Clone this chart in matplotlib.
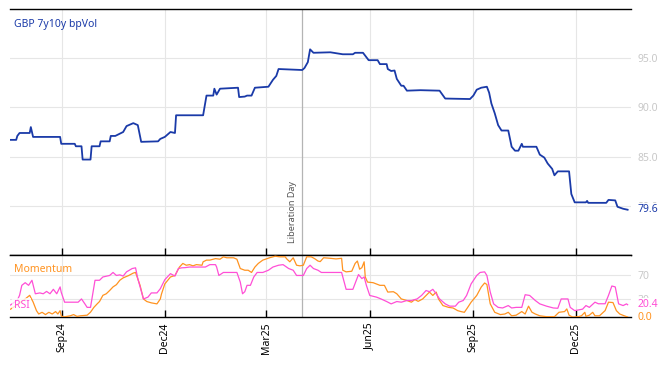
import matplotlib
matplotlib.use('Agg')
import matplotlib.pyplot as plt
import matplotlib.transforms as mtransforms
import matplotlib.dates as mdates
import pandas as pd

# ---------------- data ----------------
base_date = pd.Timestamp('2024-09-01')
title = 'GBP 7y10y bpVol'
event_date = pd.Timestamp('2025-04-02')
event_label = 'Liberation Day'
tick_dates = ['2024-09-01', '2024-12-01', '2025-03-01', '2025-06-01', '2025-09-01', '2025-12-01']
tick_labels = ['Sep24', 'Dec24', 'Mar25', 'Jun25', 'Sep25', 'Dec25']
x_start = '2024-07-16 12:00'
x_end = '2026-01-19'

# days since base_date
vol_days = [-46, -41, -40, -38, -29, -28, -26, -2, -1, 11,
            12, 17, 18, 25, 26, 33, 34, 42, 43, 47,
            54, 57, 63, 67, 70, 85, 87, 91, 96, 100,
            101, 125, 128, 134, 135, 137, 140, 156, 157, 162,
            164, 168, 171, 183, 187, 190, 192, 213, 215, 218,
            220, 223, 238, 249, 258, 260, 267, 272, 280, 282,
            288, 289, 292, 295, 297, 301, 303, 306, 318, 335,
            340, 362, 365, 368, 372, 377, 379, 381, 384, 387,
            390, 396, 399, 402, 405, 408, 409, 421, 424, 428,
            431, 435, 437, 440, 450, 452, 455, 465, 466, 467,
            483, 485, 491, 493, 498, 502]
vol_vals = [86.7, 86.7, 87.1, 87.4, 87.4, 88.0, 87.0, 87.0, 86.3, 86.3,
            86.05, 86.05, 84.7, 84.7, 86.05, 86.05, 86.55, 86.55, 87.1, 87.1,
            87.5, 88.1, 88.4, 88.2, 86.5, 86.55, 86.8, 87.0, 87.5, 87.4,
            89.2, 89.2, 91.2, 91.2, 91.9, 91.3, 91.9, 92.0, 91.05, 91.1,
            91.2, 91.2, 92.0, 92.1, 92.8, 93.2, 93.9, 93.8, 94.0, 94.6,
            95.9, 95.55, 95.6, 95.4, 95.4, 95.55, 95.55, 94.8, 94.8, 94.4,
            94.4, 93.9, 93.7, 93.75, 92.9, 92.2, 92.2, 91.7, 91.75, 91.7,
            90.9, 90.85, 91.2, 91.8, 92.0, 92.1, 91.5, 90.4, 89.4, 88.2,
            87.65, 87.65, 86.0, 85.6, 85.6, 86.3, 86.0, 86.0, 85.2, 84.9,
            84.3, 83.75, 83.1, 83.5, 83.5, 81.2, 80.35, 80.35, 80.5, 80.3,
            80.3, 80.6, 80.55, 79.9, 79.7, 79.6]

rsi_days = [-46, -40, -38, -36, -33, -30, -27, -24, -20, -17,
            -14, -11, -8, -5, -2, -1, 2, 14, 17, 20,
            22, 25, 29, 33, 36, 42, 45, 48, 51, 54,
            57, 62, 65, 67, 72, 76, 79, 84, 87, 91,
            96, 100, 103, 106, 109, 113, 119, 127, 131, 136,
            137, 139, 143, 155, 158, 160, 162, 164, 167, 170,
            173, 178, 183, 187, 192, 196, 201, 205, 208, 214,
            217, 220, 223, 227, 230, 248, 252, 258, 263, 266,
            268, 270, 273, 279, 283, 288, 292, 297, 301, 306,
            310, 315, 319, 323, 326, 329, 332, 335, 340, 344,
            349, 352, 356, 359, 363, 368, 371, 375, 377, 380,
            383, 387, 391, 396, 399, 403, 408, 411, 415, 420,
            424, 430, 436, 440, 443, 449, 451, 455, 459, 462,
            465, 468, 473, 476, 482, 485, 488, 491, 494, 498,
            501, 502]
rsi_vals = [20, 28, 36, 52.6, 57, 52.6, 61, 38.6, 40, 38.6,
            42.5, 38.6, 46, 38.6, 50, 41, 24.6, 24.6, 30, 21.8,
            16, 16, 61, 61, 66.5, 69, 74, 69, 70, 68,
            75, 80.5, 81.7, 63.8, 30, 33, 40, 40, 47, 62,
            72, 68, 80.5, 81.7, 82, 83, 83, 83, 87, 87,
            83, 69, 74, 74, 58, 38.6, 42, 52.6, 52.6, 66.5,
            74, 74, 77.7, 83, 86, 87, 80.5, 77.7, 69, 69,
            80.5, 86, 80.5, 77.7, 74, 74, 46, 46, 70.5, 63.8,
            66.5, 52.6, 35.8, 33, 30, 25.7, 21.8, 25.7, 24.6, 27.4,
            27.4, 30, 35.8, 44, 42, 46, 38.6, 30, 21.8, 18,
            18, 24.6, 27.4, 35.8, 55, 69, 74, 75, 69, 41.4,
            21.8, 16, 15, 19, 15, 16, 16, 37, 35.8, 27.4,
            21.8, 18, 15, 14.5, 30, 30, 16, 10.6, 12, 13,
            19, 16, 24.6, 22, 22, 35.8, 51.5, 50, 21.8, 19,
            21.8, 20.4]

mom_days = [-46, -42, -33, -29, -26, -23, -21, -18, -15, -12,
            -9, -6, -4, -2, -1, 1, 7, 10, 13, 16,
            22, 25, 28, 31, 33, 36, 39, 42, 45, 48,
            51, 54, 59, 63, 65, 69, 72, 75, 79, 84,
            87, 88, 91, 96, 100, 104, 107, 110, 113, 116,
            119, 124, 125, 128, 131, 136, 140, 143, 146, 152,
            155, 158, 162, 165, 168, 171, 174, 178, 184, 189,
            193, 198, 199, 202, 205, 208, 211, 214, 217, 221,
            224, 227, 229, 232, 238, 243, 248, 249, 252, 257,
            260, 262, 264, 266, 268, 269, 271, 276, 282, 286,
            289, 294, 297, 301, 306, 310, 313, 316, 320, 323,
            326, 329, 332, 334, 338, 343, 347, 351, 354, 357,
            360, 363, 368, 372, 375, 377, 380, 384, 389, 393,
            396, 399, 403, 408, 411, 414, 417, 420, 424, 430,
            437, 441, 446, 448, 450, 453, 458, 461, 464, 465,
            468, 471, 473, 477, 482, 485, 489, 492, 495, 499,
            502]
mom_vals = [13, 18, 30, 36, 25, 10.6, 5, 7.8, 4, 7.8,
            5, 9, 5, 10.6, 2, 0, 2, 4, 1, 2,
            3, 8, 16, 22, 25.7, 36, 38.6, 44, 50, 53.7,
            61, 65, 69, 73, 74, 52.6, 30, 25.7, 23.5, 21.8,
            30, 38, 55, 66.5, 69, 83, 89, 86, 87, 85,
            87, 86, 91.7, 94.5, 94.5, 97, 96, 100, 98.4, 98.4,
            96, 80.5, 77.7, 77.7, 74, 83, 89, 94.5, 98.4, 101,
            100, 100, 97, 91.7, 98.4, 86, 85, 86, 100, 100,
            97, 93, 92, 98.4, 97.5, 96.5, 97.5, 77.7, 75, 76,
            89, 93, 79.4, 82, 91.7, 66.5, 58, 57, 52.6, 52.6,
            41.4, 42, 38.6, 30, 27.4, 24.6, 29, 26, 30, 35.8,
            41.4, 35.8, 41.4, 30, 19, 16, 15, 10.6, 9, 7.8,
            16, 24.6, 35.8, 49.8, 56.5, 54, 21.8, 7.8, 4, 5,
            7.8, 2, 3, 9, 5, 18, 8, 5, 2, 0.5,
            0.5, 7.8, 9, 13.4, 3, 0, 0.5, 2, 7.8, 1,
            3, 7.8, 2, 2, 10.6, 24.6, 24, 10.6, 5, 2,
            0]

vol_dates = base_date + pd.to_timedelta(vol_days, unit='D')
rsi_dates = base_date + pd.to_timedelta(rsi_days, unit='D')
mom_dates = base_date + pd.to_timedelta(mom_days, unit='D')

# ---------------- style ----------------
FONT = ['Noto Sans', 'DejaVu Sans']
plt.rcParams['font.family'] = FONT
BLUE = '#1a3aa8'
PINK = '#ff4fd6'
ORANGE = '#ff9320'
GRID = '#e6e6e6'
TICKGRAY = '#c8c8c8'

fig = plt.figure(figsize=(6.68, 3.66), dpi=100)
L, R = 10 / 668, 631 / 668
ax = fig.add_axes([L, 1 - 255 / 366, R - L, (255 - 9) / 366])
ax2 = fig.add_axes([L, 1 - 317 / 366, R - L, (317 - 255) / 366], sharex=ax)

tick_dt = pd.to_datetime(tick_dates)

for a in (ax, ax2):
    for s in ('left', 'right'):
        a.spines[s].set_visible(False)
    for s in ('top', 'bottom'):
        a.spines[s].set_color('black')
        a.spines[s].set_linewidth(1.0)
    a.set_xticks(tick_dt)
    a.grid(True, color=GRID, linewidth=0.8)
    a.set_axisbelow(True)
    a.yaxis.tick_right()
    a.tick_params(axis='y', length=0, pad=5, labelcolor=TICKGRAY, labelsize=7.5)
    a.tick_params(axis='x', direction='in', length=5, width=1, color='black')
    a.axvline(event_date, color='#b4b4b4', linewidth=0.9, zorder=1)

ax.tick_params(axis='x', labelbottom=False)
ax2.set_xticklabels(tick_labels, rotation=90, fontsize=7.5)
ax2.tick_params(axis='x', pad=4)

# main line
ax.plot(vol_dates, vol_vals, color=BLUE, linewidth=1.3, zorder=3)
ax.set_ylim(75, 100)
ax.set_yticks([80, 85, 90, 95])
ax.set_yticklabels([f'{v:.1f}' for v in [80, 85, 90, 95]])
ax.set_xlim(pd.Timestamp(x_start), pd.Timestamp(x_end))

ax.text(0.006, 0.935, title, transform=ax.transAxes, color=BLUE, fontsize=7.5,
        ha='left', va='center')

trans = mtransforms.blended_transform_factory(ax.transData, ax.transAxes)
ax.annotate(event_label, xy=(mdates.date2num(event_date), 0.05), xycoords=trans,
            xytext=(-4, 0), textcoords='offset points', rotation=90,
            ha='right', va='bottom', color='#555555', fontsize=6.5)

last_vol = vol_vals[-1]
ax.annotate(f'{last_vol:.1f}', xy=(1, last_vol), xycoords=('axes fraction', 'data'),
            xytext=(5, 0), textcoords='offset points', ha='left', va='center',
            color=BLUE, fontsize=7.5,
            bbox=dict(boxstyle='square,pad=0.1', fc='white', ec='none'))

# lower panel
ax2.plot(mom_dates, mom_vals, color=ORANGE, linewidth=0.9, zorder=3)
ax2.plot(rsi_dates, rsi_vals, color=PINK, linewidth=0.9, zorder=3)
ax2.set_ylim(0, 103)
ax2.set_yticks([30, 70])
ax2.set_yticklabels(['30', '70'])

ax2.text(0.006, 0.77, 'Momentum', transform=ax2.transAxes, color=ORANGE,
         fontsize=7.5, ha='left', va='center', zorder=5)
ax2.text(0.006, 0.19, 'RSI', transform=ax2.transAxes, color=PINK,
         fontsize=7.5, ha='left', va='center', zorder=5,
         bbox=dict(boxstyle='square,pad=0.15', fc='white', ec='none', alpha=0.75))

ax2.annotate(f'{rsi_vals[-1]:.1f}', xy=(1, rsi_vals[-1]), xycoords=('axes fraction', 'data'),
             xytext=(5, 0), textcoords='offset points', ha='left', va='center',
             color=PINK, fontsize=7.5,
             bbox=dict(boxstyle='square,pad=0.1', fc='white', ec='none'))
ax2.annotate(f'{mom_vals[-1]:.1f}', xy=(1, mom_vals[-1]), xycoords=('axes fraction', 'data'),
             xytext=(5, 0), textcoords='offset points', ha='left', va='center',
             color=ORANGE, fontsize=7.5,
             bbox=dict(boxstyle='square,pad=0.1', fc='white', ec='none'))

fig.savefig('out.png', dpi=100)
